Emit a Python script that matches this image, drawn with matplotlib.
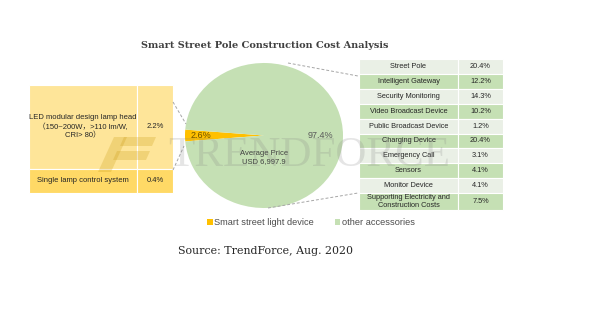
import matplotlib
matplotlib.use("Agg")
import matplotlib.pyplot as plt
from matplotlib.patches import Rectangle, Polygon

# data
pie_labels = ["Smart street light device", "other accessories"]
pie_shares = [2.6, 97.4]
avg_price = 6997.9

light_items = ["LED modular design lamp head\n\uff08150~200W\uff0c>110 lm/W,\nCRI> 80\uff09",
               "Single lamp control system"]
light_shares = [2.2, 0.4]

acc_items = ["Street Pole", "Intelligent Gateway", "Security Monitoring",
             "Video Broadcast Device", "Public Broadcast Device", "Charging Device",
             "Emergency Call", "Sensors", "Monitor Device",
             "Supporting Electricity and\nConstruction Costs"]
acc_shares = [20.4, 12.2, 14.3, 10.2, 1.2, 20.4, 3.1, 4.1, 4.1, 7.5]

YELLOW = "#FFC000"
GREEN = "#C5E0B4"
SANS = ["Liberation Sans", "Noto Sans CJK SC", "DejaVu Sans"]
SERIF = ["DejaVu Serif"]

W, H = 600, 325
fig = plt.figure(figsize=(6, 3.25), dpi=100)

# base layer in pixel coordinates
base = fig.add_axes([0, 0, 1, 1], zorder=0)
base.set_xlim(0, W)
base.set_ylim(H, 0)
base.axis("off")

# pie (slightly wider than tall, as in the picture)
cx, cy, rx, ry = 264, 135.5, 79, 72.5
pax = fig.add_axes([(cx - rx) / W, 1 - (cy + ry) / H, 2 * rx / W, 2 * ry / H], zorder=1)
wedges, _ = pax.pie(pie_shares, colors=[YELLOW, GREEN],
                    startangle=180 - pie_shares[0] * 3.6 / 2, counterclock=True)
pax.set_aspect("auto")
pax.set_xlim(-1, 1)
pax.set_ylim(-1, 1)
pax.text(-0.8, 0.0, f"{pie_shares[0]}%", ha="center", va="center",
         fontsize=6.5, color="#6B5000", family=SANS)
pax.text(0.71, 0.0, f"{pie_shares[1]}%", ha="center", va="center",
         fontsize=6.5, color="#595959", family=SANS)
pax.text(0, -0.3, f"Average Price\nUSD {avg_price:,.1f}", ha="center", va="center",
         fontsize=5.5, color="#404040", family=SANS, linespacing=1.2)

# left table (smart street light device)
lx0, lx1, lx2 = 29, 137, 173
ly = [85, 169, 193]
lcolors = ["#FEE599", "#FFD966"]
for i, (item, share) in enumerate(zip(light_items, light_shares)):
    y0, y1 = ly[i], ly[i + 1]
    for xa, xb in [(lx0, lx1), (lx1, lx2)]:
        base.add_patch(Rectangle((xa, y0), xb - xa, y1 - y0, facecolor=lcolors[i],
                                 edgecolor="white", lw=0.8))
    base.text((lx0 + lx1) / 2, (y0 + y1) / 2, item, ha="center", va="center",
              fontsize=5.5, color="#262626", family=SANS, linespacing=1.3)
    base.text((lx1 + lx2) / 2, (y0 + y1) / 2, f"{share}%", ha="center", va="center",
              fontsize=5.5, color="#262626", family=SANS)

# right table (other accessories)
rx0, rx1, rx2 = 359, 458, 503
heights = [14.9] * 9 + [16.8]
rcolors = ["#EAF0E6", GREEN]
y0 = 59
for i, (item, share) in enumerate(zip(acc_items, acc_shares)):
    h = heights[i]
    for xa, xb in [(rx0, rx1), (rx1, rx2)]:
        base.add_patch(Rectangle((xa, y0), xb - xa, h, facecolor=rcolors[i % 2],
                                 edgecolor="white", lw=0.8))
    base.text((rx0 + rx1) / 2, y0 + h / 2, item, ha="center", va="center",
              fontsize=5.3, color="#262626", family=SANS, linespacing=1.1)
    base.text((rx1 + rx2) / 2, y0 + h / 2, f"{share}%", ha="center", va="center",
              fontsize=5.3, color="#262626", family=SANS)
    y0 += h

# connector lines
top = fig.add_axes([0, 0, 1, 1], zorder=2)
top.set_xlim(0, W)
top.set_ylim(H, 0)
top.axis("off")
dash = dict(color="#A6A6A6", lw=0.7, ls=(0, (3, 2)))
top.plot([173, 186], [102, 124], **dash)
top.plot([173, 184], [170, 146], **dash)
top.plot([288, 358], [63, 76], **dash)
top.plot([268, 358], [208, 193], **dash)

# watermark
top.text(168, 156, "TRENDFORCE", ha="left", va="center", fontsize=31,
         family=["Liberation Serif"], color="#7F7F7F", alpha=0.2)
logo = [[(98, 172), (111, 172), (127, 137), (114, 137)],
        [(124, 137), (156, 137), (152, 146), (120, 146)],
        [(117, 151), (150, 151), (146, 160), (113, 160)]]
for pts in logo:
    top.add_patch(Polygon(pts, closed=True, facecolor="#C99A10", alpha=0.25, lw=0))

# titles and legend
fig.text(265 / W, 1 - 46 / H, "Smart Street Pole Construction Cost Analysis",
         ha="center", va="center", fontsize=7.0, color="#404040", family=SERIF,
         weight="semibold")
fig.text(266 / W, 1 - 251 / H, "Source: TrendForce, Aug. 2020",
         ha="center", va="center", fontsize=7.9, color="#262626", family=SERIF)
fig.legend(wedges, pie_labels, loc="center", bbox_to_anchor=(311 / W, 1 - 223 / H),
           ncol=2, frameon=False, labelcolor="#4D4D4D",
           handlelength=0.55, handleheight=0.55, handletextpad=0.2,
           columnspacing=2.2, prop={"family": SANS, "size": 6.7})

fig.savefig("out.png", dpi=100)
